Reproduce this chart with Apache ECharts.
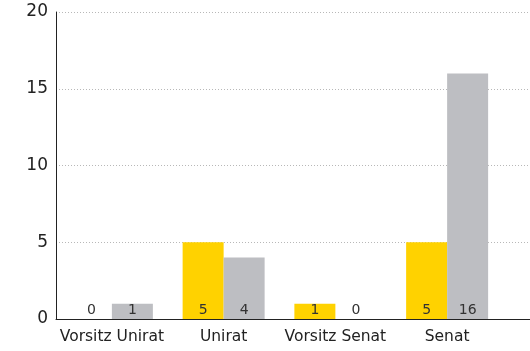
<!DOCTYPE html>
<html>
<head>
<meta charset="utf-8">
<script src="https://cdn.jsdelivr.net/npm/echarts@6/dist/echarts.min.js"></script>
<style>
  html, body { margin: 0; padding: 0; background: #fff; }
  #chart { width: 530px; height: 351px; }
</style>
</head>
<body>
<div id="chart"></div>
<script>
// Gremienbesetzung: two series per committee
const categories = ['Vorsitz Unirat', 'Unirat', 'Vorsitz Senat', 'Senat'];
const seriesA = [0, 5, 1, 5];   // yellow
const seriesB = [1, 4, 0, 16];  // gray
const yTicks = { min: 0, max: 20, interval: 5 };

const FONT = 'DejaVu Sans';
const chart = echarts.init(document.getElementById('chart'), null, { renderer: 'canvas' });

chart.setOption({
  animation: false,
  textStyle: { fontFamily: FONT },
  grid: [
    // bars
    { left: 56, right: 27, top: 12, bottom: 32 },
    // full-width background: gridlines + baseline
    { left: 56, right: 0, top: 12, bottom: 32 }
  ],
  xAxis: [
    {
      type: 'category', gridIndex: 0, data: categories,
      axisLine: { show: false }, axisTick: { show: false },
      axisLabel: { color: '#222', fontSize: 15.5, fontFamily: FONT, margin: 10, interval: 0, hideOverlap: false }
    },
    {
      type: 'value', gridIndex: 1, min: 0, max: 1,
      axisLine: { show: true, onZero: false, lineStyle: { color: '#222', width: 1 } },
      axisTick: { show: false }, axisLabel: { show: false }, splitLine: { show: false }
    }
  ],
  yAxis: [
    {
      type: 'value', gridIndex: 0, min: yTicks.min, max: yTicks.max, interval: yTicks.interval,
      axisLine: { show: true, lineStyle: { color: '#222', width: 1 } },
      axisTick: { show: false },
      axisLabel: { color: '#222', fontSize: 17, fontFamily: FONT, margin: 8 },
      splitLine: { show: false }
    },
    {
      type: 'value', gridIndex: 1, min: yTicks.min, max: yTicks.max, interval: yTicks.interval,
      axisLine: { show: false }, axisTick: { show: false }, axisLabel: { show: false },
      splitLine: { show: true, lineStyle: { color: '#b8b8b8', type: [1, 2], width: 1 } }
    }
  ],
  series: [
    {
      type: 'bar', xAxisIndex: 0, yAxisIndex: 0, data: seriesA,
      barWidth: 41, barGap: '0%',
      itemStyle: { color: '#FFD200' },
      label: { show: true, position: 'insideBottom', distance: 2, color: '#333', fontSize: 14, fontFamily: FONT },
      z: 3
    },
    {
      type: 'bar', xAxisIndex: 0, yAxisIndex: 0, data: seriesB,
      barWidth: 41, barGap: '0%',
      itemStyle: { color: '#BDBEC2' },
      label: { show: true, position: 'insideBottom', distance: 2, color: '#333', fontSize: 14, fontFamily: FONT },
      z: 3
    }
  ]
});
</script>
</body>
</html>
